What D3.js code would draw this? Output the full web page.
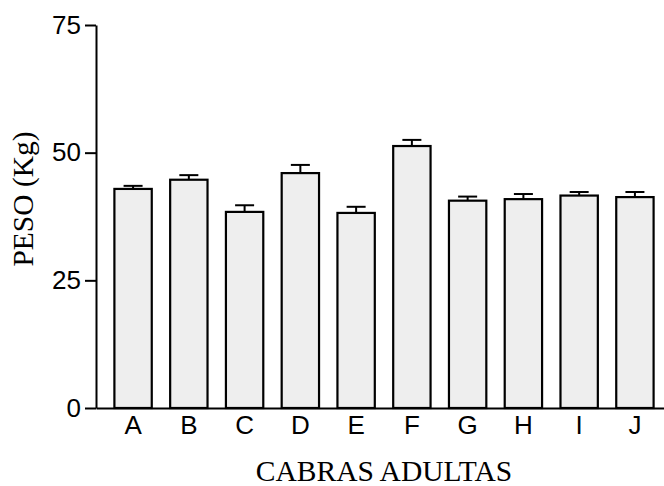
<!DOCTYPE html>
<html>
<head>
<meta charset="utf-8">
<script src="https://cdn.jsdelivr.net/npm/d3@7"></script>
<style>
  html, body { margin: 0; padding: 0; background: #fff; }
  svg { display: block; }
</style>
</head>
<body>
<svg id="chart" width="664" height="486"></svg>
<script>
// Goat groups, mean body weight and standard error (kg)
const groups = ["A", "B", "C", "D", "E", "F", "G", "H", "I", "J"];
const meanWeight = [42.9, 44.7, 38.4, 46.0, 38.2, 51.3, 40.6, 40.9, 41.6, 41.3];
const stdError = [0.6, 0.9, 1.3, 1.6, 1.2, 1.2, 0.8, 1.0, 0.7, 1.0];
const yTicks = [0, 25, 50, 75];

const rows = groups.map((g, i) => ({ g, mean: meanWeight[i], se: stdError[i] }));

const svg = d3.select("#chart");
const x0 = 96, x1 = 672, yBottom = 408, yTop = 25;

const x = d3.scaleBand().domain(groups).range([x0, x1])
  .paddingInner(0.33).paddingOuter(0.33);
const y = d3.scaleLinear().domain([0, 75]).range([yBottom, yTop]);

// bars
svg.append("g").selectAll("rect").data(rows).join("rect")
  .attr("x", d => x(d.g))
  .attr("y", d => y(d.mean))
  .attr("width", x.bandwidth())
  .attr("height", d => y(0) - y(d.mean))
  .attr("fill", "#eeeeee")
  .attr("stroke", "#000")
  .attr("stroke-width", 2.2);

// upper error bars
const err = svg.append("g").attr("stroke", "#000").attr("stroke-width", 2);
rows.forEach(d => {
  const cx = x(d.g) + x.bandwidth() / 2;
  err.append("line")
    .attr("x1", cx).attr("x2", cx)
    .attr("y1", y(d.mean)).attr("y2", y(d.mean + d.se));
  err.append("line")
    .attr("x1", cx - 9.5).attr("x2", cx + 9.5)
    .attr("y1", y(d.mean + d.se)).attr("y2", y(d.mean + d.se));
});

// y axis
const yAxis = svg.append("g")
  .attr("transform", `translate(${x0},0)`)
  .call(d3.axisLeft(y).tickValues(yTicks).tickSize(11).tickPadding(4).tickSizeOuter(0));
yAxis.select(".domain").attr("stroke-width", 2);
yAxis.selectAll(".tick line").attr("stroke-width", 2);
yAxis.selectAll("text")
  .attr("font-family", "'Liberation Sans', Arial, sans-serif")
  .attr("font-size", 26)
  .attr("fill", "#000");

// x axis
const xAxis = svg.append("g")
  .attr("transform", `translate(0,${yBottom})`)
  .call(d3.axisBottom(x).tickSize(0).tickPadding(8).tickSizeOuter(0));
xAxis.select(".domain").attr("stroke-width", 2.2);
xAxis.selectAll("text")
  .attr("font-family", "'Liberation Sans', Arial, sans-serif")
  .attr("font-size", 26)
  .attr("fill", "#000");

// axis titles
svg.append("text")
  .attr("x", 384).attr("y", 481)
  .attr("text-anchor", "middle")
  .attr("font-family", "'Liberation Serif', 'Times New Roman', serif")
  .attr("font-size", 29.5)
  .text("CABRAS ADULTAS");

svg.append("text")
  .attr("transform", "translate(33,199) rotate(-90)")
  .attr("text-anchor", "middle")
  .attr("font-family", "'Liberation Serif', 'Times New Roman', serif")
  .attr("font-size", 29.5)
  .text("PESO (Kg)");
</script>
</body>
</html>
